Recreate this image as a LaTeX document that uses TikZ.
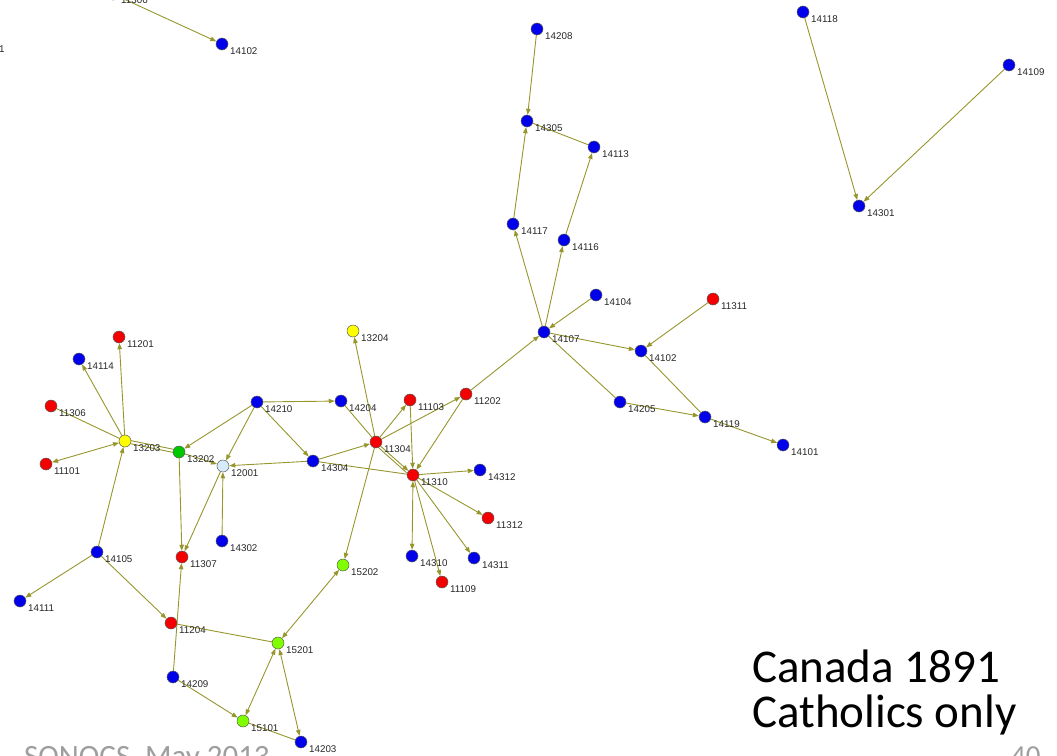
\documentclass[tikz,border=0pt]{standalone}
\usepackage{fontspec}
\setmainfont{Liberation Sans}
\newfontfamily\slidefont{Carlito}
\usetikzlibrary{arrows.meta,backgrounds}

\definecolor{edgecol}{RGB}{150,150,45}
\definecolor{vblue}{RGB}{0,0,235}
\definecolor{vred}{RGB}{245,0,0}
\definecolor{vyellow}{RGB}{255,255,0}
\definecolor{vgreen}{RGB}{0,200,0}
\definecolor{vlime}{RGB}{128,255,0}
\definecolor{vpale}{RGB}{214,236,250}

% \vx{name}{x}{y}{fill}{label}
\newcommand\vx[5]{%
  \node[vtx,fill=#4] (#1) at (#2,#3) {};
  \node[lbl] (l#1) at ({#2+8},{#3+10.5}) {#5};}

\begin{document}
\begin{tikzpicture}[x=1pt,y=-1pt,
  vtx/.style={circle,draw=black!65,line width=0.5pt,minimum size=12pt,inner sep=0pt},
  lbl/.style={anchor=base west,inner sep=0pt,font=\fontsize{9.8}{10}\selectfont,text=black!85},
  edge/.style={draw=edgecol,line width=0.9pt},
  arr/.style={edge,-{Triangle[length=6pt,width=4.5pt]}},
  biarr/.style={edge,{Triangle[length=6pt,width=4.5pt]}-{Triangle[length=6pt,width=4.5pt]}},
  slide/.style={anchor=base west,inner sep=0pt}]

\path[use as bounding box] (0,0) rectangle (1057,755);
\clip (0,0) rectangle (1057,755);

% vertices
\node[vtx,fill=vpale] (n11306t) at (113,-6) {};
\node[lbl] (ln11306t) at (121,3) {11306};
\node[lbl] (lcut) at (-1,52) {1};
\vx{n14102a}{222}{44}{vblue}{14102}
\vx{n14208}{537}{29}{vblue}{14208}
\vx{n14305}{527}{121}{vblue}{14305}
\vx{n14113}{594}{147}{vblue}{14113}
\vx{n14117}{513}{224}{vblue}{14117}
\vx{n14116}{564}{240}{vblue}{14116}
\vx{n14107}{544}{332}{vblue}{14107}
\vx{n14104}{596}{295}{vblue}{14104}
\vx{n11311}{713}{299}{vred}{11311}
\vx{n14102}{641}{351}{vblue}{14102}
\vx{n14205}{620}{402}{vblue}{14205}
\vx{n14119}{705}{417}{vblue}{14119}
\vx{n14101}{783}{445}{vblue}{14101}
\vx{n14118}{803}{12}{vblue}{14118}
\vx{n14109}{1009}{65}{vblue}{14109}
\vx{n14301}{859}{206}{vblue}{14301}
\vx{n13204}{353}{331}{vyellow}{13204}
\vx{n11201}{119}{337}{vred}{11201}
\vx{n14114}{79}{359}{vblue}{14114}
\vx{n11306}{51}{406}{vred}{11306}
\vx{n11101}{46}{464}{vred}{11101}
\vx{n13203}{125}{441}{vyellow}{13203}
\vx{n13202}{179}{452}{vgreen}{13202}
\vx{n12001}{223}{466}{vpale}{12001}
\vx{n14210}{257}{402}{vblue}{14210}
\vx{n14204}{341}{401}{vblue}{14204}
\vx{n11103}{410}{400}{vred}{11103}
\vx{n11202}{466}{394}{vred}{11202}
\vx{n11304}{376}{442}{vred}{11304}
\vx{n14304}{313}{461}{vblue}{14304}
\vx{n11310}{413}{475}{vred}{11310}
\vx{n14312}{480}{470}{vblue}{14312}
\vx{n11312}{488}{518}{vred}{11312}
\vx{n14311}{474}{558}{vblue}{14311}
\vx{n14310}{412}{556}{vblue}{14310}
\vx{n11109}{442}{582}{vred}{11109}
\vx{n15202}{343}{565}{vlime}{15202}
\vx{n14302}{222}{541}{vblue}{14302}
\vx{n11307}{182}{557}{vred}{11307}
\vx{n14105}{97}{552}{vblue}{14105}
\vx{n14111}{20}{601}{vblue}{14111}
\vx{n11204}{171}{623}{vred}{11204}
\vx{n15201}{278}{643}{vlime}{15201}
\vx{n14209}{173}{677}{vblue}{14209}
\vx{n15101}{243}{721}{vlime}{15101}
\vx{n14203}{301}{742}{vblue}{14203}

% connectors, kept under the vertices
\begin{scope}[on background layer]
  % directed
  \draw[arr] (n11306t) -- (n14102a);
  \draw[arr] (n14208) -- (n14305);
  \draw[arr] (n14117) -- (n14305);
  \draw[arr] (n14116) -- (n14113);
  \draw[arr] (n14107) -- (n14117);
  \draw[arr] (n14107) -- (n14116);
  \draw[arr] (n14104) -- (n14107);
  \draw[arr] (n11202) -- (n14107);
  \draw[arr] (n14107) -- (n14102);
  \draw[arr] (n11311) -- (n14102);
  \draw[arr] (n14205) -- (n14119);
  \draw[arr] (n14119) -- (n14101);
  \draw[arr] (n14118) -- (n14301);
  \draw[arr] (n14109) -- (n14301);
  \draw[arr] (n11304) -- (n13204);
  \draw[arr] (n14210) -- (n14204);
  \draw[arr] (n14210) -- (n13202);
  \draw[arr] (n14210) -- (n12001);
  \draw[arr] (n14210) -- (n14304);
  \draw[arr] (n14304) -- (n12001);
  \draw[arr] (n14304) -- (n11304);
  \draw[arr] (n11304) -- (n11103);
  \draw[arr] (n11304) -- (n11202);
  \draw[arr] (n11304) -- (n11310);
  \draw[arr] (n11304) -- (n15202);
  \draw[arr] (n11103) -- (n11310);
  \draw[arr] (n11202) -- (n11310);
  \draw[arr] (n11310) -- (n14312);
  \draw[arr] (n11310) -- (n11312);
  \draw[arr] (n11310) -- (n14311);
  \draw[arr] (n11310) -- (n11109);
  \draw[arr] (n13203) -- (n11201);
  \draw[arr] (n13203) -- (n14114);
  \draw[arr] (n14105) -- (n13203);
  \draw[arr] (n13202) -- (n12001);
  \draw[arr] (n13202) -- (n11307);
  \draw[arr] (n12001) -- (n11307);
  \draw[arr] (n14302) -- (n12001);
  \draw[arr] (n14105) -- (n14111);
  \draw[arr] (n14105) -- (n11204);
  \draw[arr] (n14209) -- (n11307);
  \draw[arr] (n14209) -- (n15101);
  % both ways
  \draw[biarr] (n11310) -- (n14310);
  \draw[biarr] (n11101) -- (n13203);
  \draw[biarr] (n15202) -- (n15201);
  \draw[biarr] (n15201) -- (n15101);
  \draw[biarr] (n15201) -- (n14203);
  % undirected
  \draw[edge] (n14305) -- (n14113);
  \draw[edge] (n14102) -- (n14119);
  \draw[edge] (n14107) -- (n14205);
  \draw[edge] (n14204) -- (n11304);
  \draw[edge] (n14304) -- (n11310);
  \draw[edge] (n11306) -- (n13203);
  \draw[edge] (n11204) -- (n15201);
  \draw[edge] (n15101) -- (n14203);
  \draw[edge,transform canvas={shift={(0,-1.6pt)}}] (n13203) -- (n13202);
  \draw[edge,transform canvas={shift={(0,1.6pt)}}] (n13203) -- (n13202);
  \draw[edge,transform canvas={shift={(-1.8pt,-1.8pt)}}] (n11304) -- (n11310);
\end{scope}

% slide texts
\node[slide,font=\slidefont\fontsize{47}{47}\selectfont] (t1) at (752,682) {Canada 1891};
\node[slide,font=\slidefont\fontsize{47}{47}\selectfont] (t2) at (752,727) {Catholics only};
\node[slide,font=\slidefont\fontsize{31}{31}\selectfont,text=black!38] (foot) at (24,766) {SONOCS, May 2013};
\node[slide,font=\slidefont\fontsize{29}{29}\selectfont,text=black!38] (page) at (1011,765) {40};
\end{tikzpicture}
\end{document}
